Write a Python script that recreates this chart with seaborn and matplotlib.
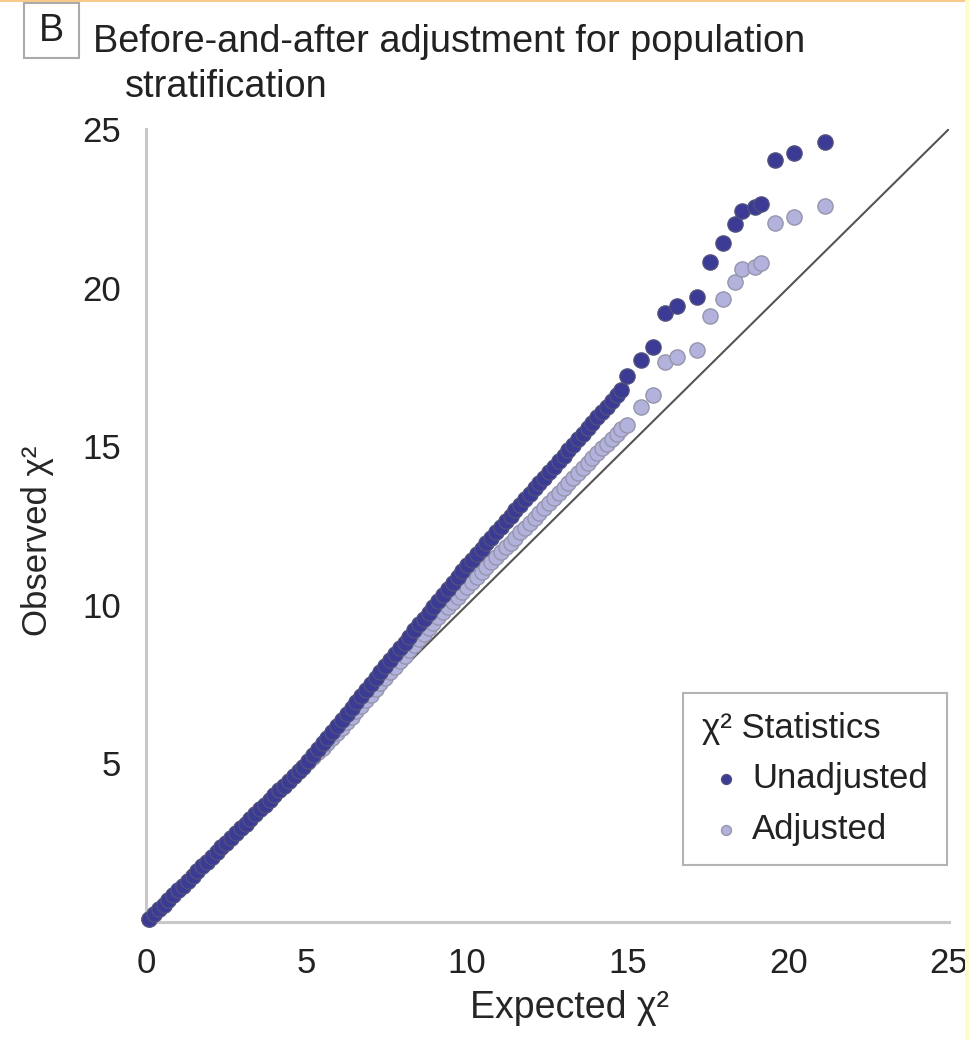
import pandas as pd
import matplotlib.pyplot as plt
import seaborn as sns
from matplotlib.patches import Rectangle

# --- Data ---
expected = [0.1, 0.25, 0.4, 0.55, 0.7, 0.85, 1.0, 1.15, 1.3, 1.45,
            1.6, 1.75, 1.9, 2.05, 2.2, 2.35, 2.5, 2.65, 2.8, 2.95,
            3.1, 3.25, 3.4, 3.55, 3.7, 3.85, 4.0, 4.15, 4.3, 4.45,
            4.6, 4.75, 4.9, 5.05, 5.2, 5.35, 5.5, 5.65, 5.8, 5.95,
            6.1, 6.25, 6.4, 6.55, 6.7, 6.85, 7.0, 7.15, 7.3, 7.45,
            7.6, 7.75, 7.9, 8.05, 8.2, 8.35, 8.5, 8.65, 8.8, 8.95,
            9.1, 9.25, 9.4, 9.55, 9.7, 9.85, 10.0, 10.15, 10.3, 10.45,
            10.6, 10.75, 10.9, 11.05, 11.2, 11.35, 11.5, 11.65, 11.8, 11.95,
            12.1, 12.25, 12.4, 12.55, 12.7, 12.85, 13.0, 13.15, 13.3, 13.45,
            13.6, 13.75, 13.9, 14.05, 14.2, 14.35, 14.5, 14.65, 14.8,
            14.98, 15.4, 15.78, 16.15, 16.53, 17.15, 17.57, 17.95, 18.35, 18.55,
            18.96, 19.15, 19.57, 20.16, 21.13]

unadjusted = [0.1, 0.25, 0.4, 0.55, 0.7, 0.85, 1.0, 1.15, 1.3, 1.45,
              1.6, 1.75, 1.9, 2.05, 2.2, 2.35, 2.5, 2.65, 2.8, 2.95,
              3.1, 3.25, 3.4, 3.55, 3.7, 3.85, 4.0, 4.15, 4.3, 4.45,
              4.6, 4.75, 4.9, 5.06, 5.25, 5.44, 5.63, 5.81, 6.0, 6.19,
              6.38, 6.56, 6.75, 6.94, 7.13, 7.31, 7.5, 7.69, 7.88, 8.06,
              8.25, 8.44, 8.63, 8.81, 9.0, 9.19, 9.38, 9.56, 9.75, 9.94,
              10.13, 10.31, 10.5, 10.69, 10.88, 11.06, 11.25, 11.42, 11.6, 11.77,
              11.94, 12.11, 12.29, 12.46, 12.63, 12.8, 12.98, 13.15, 13.32, 13.49,
              13.67, 13.84, 14.01, 14.18, 14.36, 14.53, 14.7, 14.87, 15.05, 15.22,
              15.39, 15.56, 15.74, 15.91, 16.08, 16.25, 16.43, 16.6, 16.77,
              17.21, 17.72, 18.14, 19.2, 19.41, 19.71, 20.82, 21.42, 22.0, 22.42,
              22.53, 22.63, 24.02, 24.23, 24.6]

adjusted = [0.1, 0.25, 0.4, 0.55, 0.7, 0.85, 1.0, 1.15, 1.3, 1.45,
            1.6, 1.75, 1.9, 2.05, 2.2, 2.35, 2.5, 2.65, 2.8, 2.95,
            3.1, 3.25, 3.4, 3.55, 3.7, 3.85, 4.0, 4.15, 4.3, 4.45,
            4.6, 4.75, 4.9, 5.05, 5.2, 5.35, 5.5, 5.65, 5.8, 5.95,
            6.12, 6.29, 6.47, 6.64, 6.82, 6.99, 7.17, 7.34, 7.52, 7.69,
            7.87, 8.04, 8.22, 8.39, 8.57, 8.74, 8.92, 9.09, 9.27, 9.44,
            9.6, 9.76, 9.92, 10.08, 10.24, 10.39, 10.55, 10.71, 10.87, 11.02,
            11.18, 11.34, 11.5, 11.65, 11.81, 11.96, 12.12, 12.28, 12.43, 12.59,
            12.74, 12.9, 13.06, 13.21, 13.37, 13.52, 13.68, 13.84, 13.99, 14.15,
            14.3, 14.46, 14.62, 14.77, 14.93, 15.08, 15.24, 15.4, 15.55,
            15.66, 16.25, 16.61, 17.66, 17.82, 18.03, 19.1, 19.63, 20.19, 20.58,
            20.66, 20.76, 22.05, 22.22, 22.57]

x_ticks = [0, 5, 10, 15, 20, 25]
y_ticks = [5, 10, 15, 20, 25]

n = len(expected)
df = pd.DataFrame({
    "expected": expected * 2,
    "observed": unadjusted + adjusted,
    "series": ["Unadjusted"] * n + ["Adjusted"] * n,
})

sns.set_style("white")
plt.rcParams["font.family"] = ["Liberation Sans", "DejaVu Sans"]
plt.rcParams["text.color"] = "#222222"

dark = "#3b3b95"
light = "#b2b2dc"

fig = plt.figure(figsize=(9.69, 10.4), dpi=100)
ax = fig.add_axes([146 / 969, 118 / 1040, 803 / 969, 793 / 1040])

# reference line y = x
ax.plot([0, 25], [0, 25], color="#555555", lw=1.5, zorder=1)

sns.scatterplot(data=df[df.series == "Adjusted"], x="expected", y="observed",
                color=light, edgecolor="#9595ad", linewidth=1, s=120,
                label="Adjusted", ax=ax, zorder=2, clip_on=False)
sns.scatterplot(data=df[df.series == "Unadjusted"], x="expected", y="observed",
                color=dark, edgecolor="#50507e", linewidth=1, s=120,
                label="Unadjusted", ax=ax, zorder=3, clip_on=False)

ax.set_xlim(0, 25)
ax.set_ylim(0, 25)
ax.set_xticks(x_ticks)
ax.set_yticks(y_ticks)
sns.despine(ax=ax)
for side in ["left", "bottom"]:
    ax.spines[side].set_color("#c8c8c8")
    ax.spines[side].set_linewidth(2.2)
ax.tick_params(direction="out", length=11, width=1.5, color="#b5b5b5",
               labelsize=25, pad=7, labelcolor="#222222")

ax.set_xlabel("Expected χ²", fontsize=27)
ax.set_ylabel("Observed χ²", fontsize=25)
ax.xaxis.set_label_coords((570 - 146) / 803, (922 - 990) / 793)
ax.yaxis.set_label_coords((54 - 146) / 803, (922 - 541) / 793)

# legend: Unadjusted first
handles, labels = ax.get_legend_handles_labels()
leg = ax.legend(handles[::-1], labels[::-1], title="χ² Statistics",
                loc="lower right", bbox_to_anchor=(0.9975, 0.072),
                borderaxespad=0, frameon=True, fancybox=False, edgecolor="#a0a0a0",
                fontsize=25, title_fontsize=25, markerscale=0.65,
                handletextpad=0.05, handlelength=1.4, alignment="left",
                borderpad=0.55, labelspacing=0.5)
leg.get_frame().set_linewidth(1.5)

# panel label and title
fig.add_artist(Rectangle((24 / 969, 1 - 58 / 1040), 55 / 969, 55 / 1040,
                         transform=fig.transFigure, fc="white", ec="#aaaaaa", lw=1.5))
fig.text(51 / 969, 1 - 31 / 1040, "B", ha="center", va="center", fontsize=27)
fig.text(93 / 969, 1 - 52 / 1040, "Before-and-after adjustment for population",
         fontsize=27.3, va="baseline")
fig.text(125 / 969, 1 - 97 / 1040, "stratification", fontsize=27.3, va="baseline")

# page edge strips seen in the reference
fig.add_artist(Rectangle((0, 1 - 2 / 1040), 1, 2 / 1040, transform=fig.transFigure,
                         color="#f7c98a", lw=0))
fig.add_artist(Rectangle((965 / 969, 0), 4 / 969, 1, transform=fig.transFigure,
                         color="#fffccc", lw=0))

fig.savefig("out.png", dpi=100)
